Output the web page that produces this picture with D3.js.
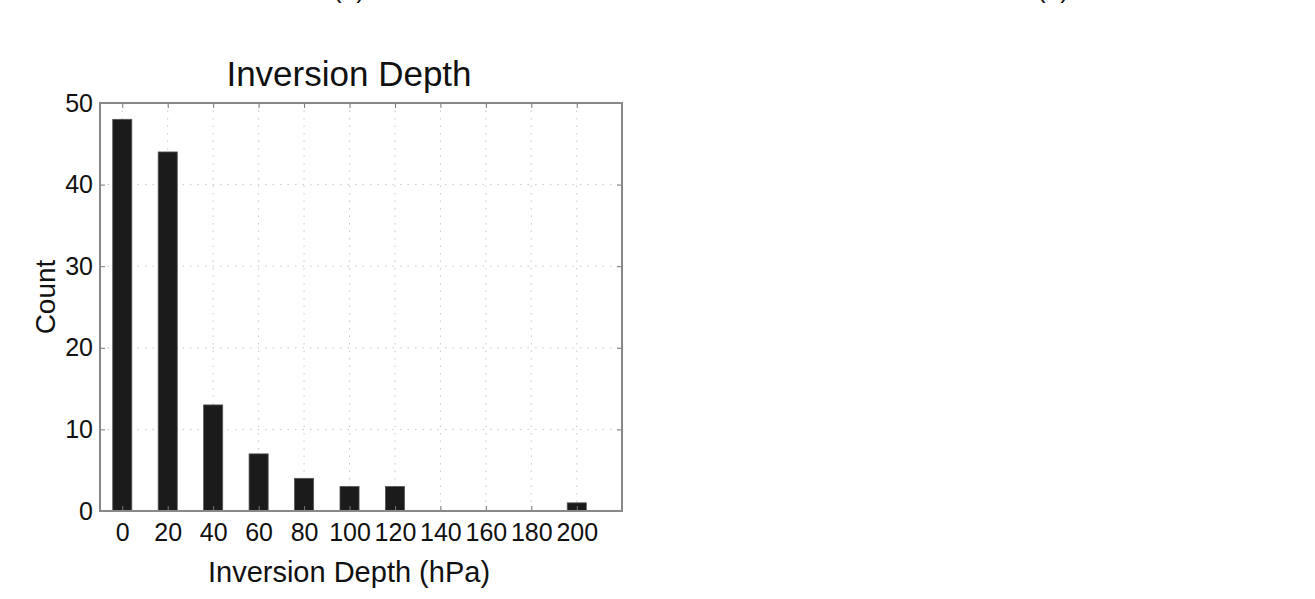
<!DOCTYPE html>
<html><head><meta charset="utf-8">
<script src="https://cdn.jsdelivr.net/npm/d3@7"></script>
<style>body{margin:0;background:#fff;} text{font-family:"Liberation Sans",Arial,Helvetica,sans-serif;fill:#111;}</style>
</head><body>
<svg id="chart" width="1315" height="599"></svg>
<script>
const binCenters = [0,20,40,60,80,100,120,140,160,180,200];
const counts = [48,44,13,7,4,3,3,0,0,0,1];
const xTicks = [0,20,40,60,80,100,120,140,160,180,200];
const yTicks = [0,10,20,30,40,50];
const title = "Inversion Depth";
const xLabel = "Inversion Depth (hPa)";
const yLabel = "Count";
const panelLabels = ["(a)","(b)"];

const svg = d3.select("#chart");
const L=100, R=622, T=103, B=511;
const x = d3.scaleLinear().domain([-9.8,219.9]).range([L,R]);
const y = d3.scaleLinear().domain([0,50]).range([B,T]);
const barW = 8.4;

// panel labels cut at top (as in the reference)
svg.append("text").attr("x",349).attr("y",-2).attr("text-anchor","middle").attr("font-size",26).text(panelLabels[0]);
svg.append("text").attr("x",1053).attr("y",-2).attr("text-anchor","middle").attr("font-size",26).text(panelLabels[1]);

// grid
const g = svg.append("g");
g.selectAll(".gx").data(xTicks).enter().append("line")
 .attr("x1",d=>x(d)).attr("x2",d=>x(d)).attr("y1",T).attr("y2",B)
 .attr("stroke","#c8c8c8").attr("stroke-width",1).attr("stroke-dasharray","1.5,6");
g.selectAll(".gy").data(yTicks.slice(1,-1)).enter().append("line")
 .attr("x1",L).attr("x2",R).attr("y1",d=>y(d)).attr("y2",d=>y(d))
 .attr("stroke","#c8c8c8").attr("stroke-width",1).attr("stroke-dasharray","1.5,6");

// bars
svg.selectAll(".bar").data(binCenters).enter().append("rect")
 .attr("x",(d)=>x(d-barW/2)).attr("width",x(barW)-x(0))
 .attr("y",(d,i)=>y(counts[i])).attr("height",(d,i)=>y(0)-y(counts[i]))
 .attr("fill","#1b1b1b").attr("stroke","#555").attr("stroke-width",0.8);

// axes (ticks inside)
const xb = svg.append("g").attr("transform",`translate(0,${B})`)
 .call(d3.axisBottom(x).tickValues(xTicks).tickSize(-5).tickPadding(12).tickFormat(d3.format("d")));
const xt = svg.append("g").attr("transform",`translate(0,${T})`)
 .call(d3.axisTop(x).tickValues(xTicks).tickSize(-5).tickFormat(""));
const yl = svg.append("g").attr("transform",`translate(${L},0)`)
 .call(d3.axisLeft(y).tickValues(yTicks).tickSize(-5).tickPadding(7).tickFormat(d3.format("d")));
const yr = svg.append("g").attr("transform",`translate(${R},0)`)
 .call(d3.axisRight(y).tickValues(yTicks).tickSize(-5).tickFormat(""));
[xb,xt,yl,yr].forEach(a=>{
  a.select(".domain").remove();
  a.selectAll(".tick line").attr("stroke","#777").attr("stroke-width",1);
  a.selectAll(".tick text").attr("font-size",25).attr("fill","#111")
   .style("font-family",'"Liberation Sans",Arial,sans-serif');
});
xb.selectAll(".tick text").attr("dy","0.71em");

// frame
svg.append("rect").attr("x",L).attr("y",T).attr("width",R-L).attr("height",B-T)
 .attr("fill","none").attr("stroke","#888").attr("stroke-width",2);

// labels
svg.append("text").attr("x",349).attr("y",86).attr("text-anchor","middle").attr("font-size",35).text(title);
svg.append("text").attr("x",349).attr("y",582).attr("text-anchor","middle").attr("font-size",29).text(xLabel);
svg.append("text").attr("transform",`translate(55,297) rotate(-90)`).attr("text-anchor","middle").attr("font-size",28).text(yLabel);
</script>
</body></html>
